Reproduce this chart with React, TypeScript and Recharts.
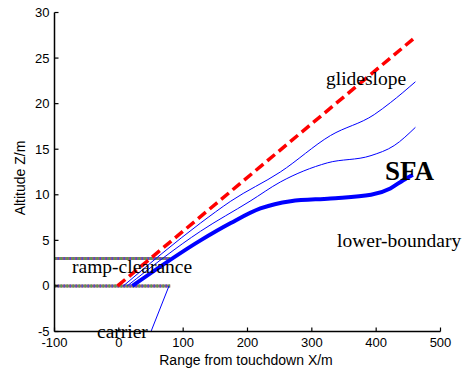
import { LineChart, Line, XAxis, YAxis } from 'recharts';

// axis ticks
const xTicks = [-100, 0, 100, 200, 300, 400, 500];
const yTicks = [-5, 0, 5, 10, 15, 20, 25, 30];

// glideslope (red dashed)
const glideX = [-2, 461];
const glideZ = [0, 27.3];

// upper thin boundary
const upperX = [7, 127, 174, 251, 329, 397, 422, 461];
const upperZ = [0, 6.9, 9.3, 12.5, 16.5, 18.8, 20.1, 22.4];

// middle thin boundary
const middleX = [13, 127, 204, 251, 324, 392, 428, 461];
const middleZ = [0, 6.0, 9.3, 11.4, 13.5, 14.3, 15.4, 17.4];

// SFA lower boundary (thick)
const sfaX = [21, 127, 174, 220, 267, 329, 392, 422, 442, 457];
const sfaZ = [0, 5.0, 6.9, 8.5, 9.3, 9.6, 10.0, 10.7, 11.6, 12.2];

// ramp clearance + deck
const rampX = [-100, 80];
const rampTopZ = [3, 3];
const deckZ = [0, 0];

// carrier stern
const carrierX = [78, 50];
const carrierZ = [0, -5];

const zip = (xs: number[], zs: number[]) => xs.map((x, i) => ({ x, z: zs[i] }));

const glide = zip(glideX, glideZ);
const upper = zip(upperX, upperZ);
const middle = zip(middleX, middleZ);
const sfa = zip(sfaX, sfaZ);
const rampTop = zip(rampX, rampTopZ);
const deck = zip(rampX, deckZ);
const carrier = zip(carrierX, carrierZ);

const tickFont = { fontSize: 13, fontFamily: '"Liberation Sans", Arial, sans-serif', fill: '#000' };
const labelFont = { ...tickFont, fontSize: 14 };
const serif = '"Liberation Serif", "Times New Roman", serif';

const BottomTick = (props: any) => {
  const { x, y, payload } = props;
  return (
    <g>
      <line x1={x} y1={y} x2={x} y2={y - 4} stroke="#000" strokeWidth={1.2} />
      <text x={x} y={y + 15} textAnchor="middle" {...tickFont}>{payload.value}</text>
    </g>
  );
};

const TopTick = (props: any) => {
  const { x, y } = props;
  return <line x1={x} y1={y} x2={x} y2={y + 4} stroke="#000" strokeWidth={1.2} />;
};

const LeftTick = (props: any) => {
  const { x, y, payload } = props;
  return (
    <g>
      <line x1={x} y1={y} x2={x + 4} y2={y} stroke="#000" strokeWidth={1.2} />
      <text x={x - 5} y={y + 4.5} textAnchor="end" {...tickFont}>{payload.value}</text>
    </g>
  );
};

const RightTick = (props: any) => {
  const { x, y } = props;
  return <line x1={x} y1={y} x2={x - 4} y2={y} stroke="#000" strokeWidth={1.2} />;
};

const rampLines = (data: any[], id: string) => [
  <Line key={id + 'a'} xAxisId="b" yAxisId="l" data={data} dataKey="z" type="linear" stroke="#9a6a62" strokeWidth={3} dot={false} isAnimationActive={false} />,
  <Line key={id + 'b'} xAxisId="b" yAxisId="l" data={data} dataKey="z" type="linear" stroke="#4aa05a" strokeWidth={3} strokeDasharray="1.5 4.5" dot={false} isAnimationActive={false} />,
  <Line key={id + 'c'} xAxisId="b" yAxisId="l" data={data} dataKey="z" type="linear" stroke="#5050d0" strokeWidth={3} strokeDasharray="1.5 4.5" strokeDashoffset={3} dot={false} isAnimationActive={false} />,
];

const axisStroke = { stroke: '#000', strokeWidth: 1.5 };

export default function App() {
  return (
    <div style={{ position: 'absolute', left: 0, top: 0, width: 465, height: 372, background: '#fff' }}>
      <LineChart width={465} height={372} margin={{ top: 12.5, right: 24.5, bottom: 10.5, left: 14.5 }}>
        <XAxis
          xAxisId="b"
          type="number"
          dataKey="x"
          domain={[-100, 500]}
          ticks={xTicks}
          interval={0}
          allowDataOverflow
          height={30}
          stroke="#000"
          tickSize={0}
          tickMargin={0}
          tick={<BottomTick />}
          axisLine={axisStroke}
        />
        <XAxis
          xAxisId="t"
          orientation="top"
          type="number"
          dataKey="x"
          domain={[-100, 500]}
          ticks={xTicks}
          interval={0}
          height={0}
          stroke="#000"
          tickSize={0}
          tickMargin={0}
          tick={<TopTick />}
          axisLine={axisStroke}
        />
        <YAxis
          yAxisId="l"
          type="number"
          domain={[-5, 30]}
          ticks={yTicks}
          interval={0}
          allowDataOverflow
          width={40}
          stroke="#000"
          tickSize={0}
          tickMargin={0}
          tick={<LeftTick />}
          axisLine={axisStroke}
        />
        <YAxis
          yAxisId="r"
          orientation="right"
          type="number"
          domain={[-5, 30]}
          ticks={yTicks}
          interval={0}
          width={0}
          stroke="#000"
          tickSize={0}
          tickMargin={0}
          tick={<RightTick />}
          axisLine={axisStroke}
        />
        {rampLines(rampTop, 'top')}
        {rampLines(deck, 'deck')}
        <Line xAxisId="b" yAxisId="l" data={carrier} dataKey="z" type="linear" stroke="#0000ff" strokeWidth={1} dot={false} isAnimationActive={false} />
        <Line xAxisId="b" yAxisId="l" data={glide} dataKey="z" type="linear" stroke="#ff0000" strokeWidth={3.5} strokeDasharray="10 5" dot={false} isAnimationActive={false} />
        <Line xAxisId="b" yAxisId="l" data={upper} dataKey="z" type="monotone" stroke="#0000ff" strokeWidth={1} dot={false} isAnimationActive={false} />
        <Line xAxisId="b" yAxisId="l" data={middle} dataKey="z" type="monotone" stroke="#0000ff" strokeWidth={1} dot={false} isAnimationActive={false} />
        <Line xAxisId="b" yAxisId="l" data={sfa} dataKey="z" type="monotone" stroke="#0000ff" strokeWidth={4} dot={false} isAnimationActive={false} />
      </LineChart>
      <svg width={465} height={372} style={{ position: 'absolute', left: 0, top: 0, pointerEvents: 'none' }}>
        <text x={326} y={85} fontFamily={serif} fontSize={19.5} fill="#000">glideslope</text>
        <text x={385} y={180} fontFamily={serif} fontSize={27} fontWeight="bold" fill="#000">SFA</text>
        <text x={337} y={247} fontFamily={serif} fontSize={19.5} fill="#000">lower-boundary</text>
        <text x={72} y={273} fontFamily={serif} fontSize={19.5} fill="#000">ramp-clearance</text>
        <text x={97} y={338} fontFamily={serif} fontSize={19.5} fill="#000">carrier</text>
        <text x={246} y={365} textAnchor="middle" {...labelFont}>Range from touchdown X/m</text>
        <text x={24.5} y={178} textAnchor="middle" transform="rotate(-90 24.5 178)" {...labelFont}>Altitude Z/m</text>
      </svg>
    </div>
  );
}
